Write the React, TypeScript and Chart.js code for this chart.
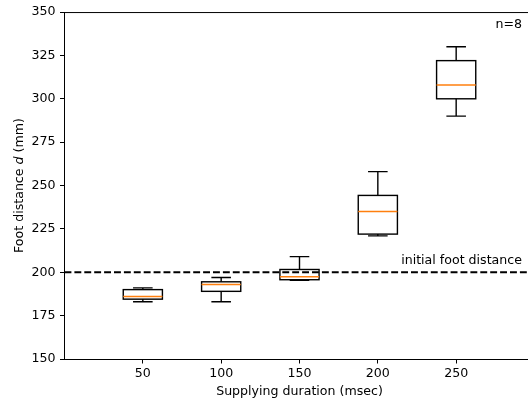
import React, { useEffect, useRef } from "react";
import { Chart, registerables } from "chart.js";

Chart.register(...registerables);

const durations = [50, 100, 150, 200, 250];
const positions = [1, 2, 3, 4, 5];
const whiskerLow = [183, 183, 195.3, 221, 290];
const q1 = [184.5, 189, 195.7, 222, 300];
const median = [186, 193, 197.4, 235, 308];
const q3 = [190, 194.5, 201.6, 244.3, 322];
const whiskerHigh = [191, 197, 209, 258, 330];
const yTicks = [150, 175, 200, 225, 250, 275, 300, 325, 350];
const initialDistance = 200;

const FONT = "DejaVu Sans";
const FS = 12.6;
const CW = 540;
const CH = 404;

const drawPlugin = {
  id: "boxdraw",
  afterDatasetsDraw(chart: any) {
    const { ctx, scales, chartArea } = chart;
    const x = scales.x;
    const y = scales.y;
    ctx.save();
    // top spine
    ctx.strokeStyle = "#000";
    ctx.lineWidth = 1;
    ctx.beginPath();
    ctx.moveTo(chartArea.left, chartArea.top + 0.5);
    ctx.lineTo(chartArea.right, chartArea.top + 0.5);
    ctx.stroke();

    // dashed reference line
    const yr = y.getPixelForValue(initialDistance);
    ctx.setLineDash([6.9, 3]);
    ctx.lineWidth = 1.9;
    ctx.beginPath();
    ctx.moveTo(chartArea.left, yr);
    ctx.lineTo(chartArea.right, yr);
    ctx.stroke();
    ctx.setLineDash([]);

    // boxes
    for (let i = 0; i < positions.length; i++) {
      const cx = x.getPixelForValue(positions[i]);
      const hw = x.getPixelForValue(positions[i] + 0.25) - cx;
      const cw = hw / 2;
      const yl = y.getPixelForValue(whiskerLow[i]);
      const y1 = y.getPixelForValue(q1[i]);
      const ym = y.getPixelForValue(median[i]);
      const y3 = y.getPixelForValue(q3[i]);
      const yh = y.getPixelForValue(whiskerHigh[i]);
      ctx.strokeStyle = "#000";
      ctx.lineWidth = 1.4;
      ctx.beginPath();
      ctx.moveTo(cx, y1);
      ctx.lineTo(cx, yl);
      ctx.moveTo(cx - cw, yl);
      ctx.lineTo(cx + cw, yl);
      ctx.moveTo(cx, y3);
      ctx.lineTo(cx, yh);
      ctx.moveTo(cx - cw, yh);
      ctx.lineTo(cx + cw, yh);
      ctx.stroke();
      ctx.strokeRect(cx - hw, y3, 2 * hw, y1 - y3);
      ctx.strokeStyle = "#ff7f0e";
      ctx.lineWidth = 1.5;
      ctx.beginPath();
      ctx.moveTo(cx - hw, ym);
      ctx.lineTo(cx + hw, ym);
      ctx.stroke();
    }

    // texts
    ctx.fillStyle = "#000";
    ctx.font = `${FS}px "${FONT}"`;
    ctx.textAlign = "right";
    ctx.textBaseline = "alphabetic";
    const tx = x.getPixelForValue(5.84);
    ctx.fillText("initial foot distance", tx, yr - 8.5);
    ctx.fillText("n=8", tx, chartArea.top + 16);

    // x title
    ctx.textAlign = "center";
    ctx.fillText("Supplying duration (msec)", x.getPixelForValue(3), 395);

    // y title with italic d
    const p1 = "Foot distance ";
    const p2 = "d";
    const p3 = " (mm)";
    const nf = `${FS}px "${FONT}"`;
    const itf = `italic ${FS}px "${FONT}"`;
    ctx.font = nf;
    const w1 = ctx.measureText(p1).width;
    const w3 = ctx.measureText(p3).width;
    ctx.font = itf;
    const w2 = ctx.measureText(p2).width;
    const total = w1 + w2 + w3;
    const cy = (chartArea.top + chartArea.bottom) / 2;
    ctx.translate(22.5, cy);
    ctx.rotate(-Math.PI / 2);
    ctx.textAlign = "left";
    let sx = -total / 2;
    ctx.font = nf;
    ctx.fillText(p1, sx, 0);
    sx += w1;
    ctx.font = itf;
    ctx.fillText(p2, sx, 0);
    sx += w2;
    ctx.font = nf;
    ctx.fillText(p3, sx, 0);
    ctx.restore();
  },
};

export default function App() {
  const ref = useRef<HTMLCanvasElement | null>(null);
  useEffect(() => {
    if (!ref.current) return;
    const chart = new Chart(ref.current, {
      type: "scatter",
      data: {
        datasets: [
          {
            data: positions.map((p, i) => ({ x: p, y: median[i] })),
            pointRadius: 0,
            showLine: false,
          },
        ],
      },
      options: {
        animation: false,
        responsive: false,
        devicePixelRatio: 1,
        layout: { padding: { left: 0, right: 5.5, top: 10, bottom: 0 } },
        plugins: { legend: { display: false }, tooltip: { enabled: false } },
        scales: {
          x: {
            type: "linear",
            min: 0,
            max: 6,
            afterBuildTicks: (s: any) => {
              s.ticks = positions.map((v) => ({ value: v }));
            },
            afterFit: (s: any) => {
              s.height = 45;
            },
            ticks: {
              callback: (v: any) => String(durations[positions.indexOf(Number(v))] ?? ""),
              font: { family: FONT, size: FS },
              color: "#000",
              padding: 3,
              maxRotation: 0,
              autoSkip: false,
            },
            grid: {
              drawOnChartArea: false,
              drawTicks: true,
              tickLength: 4.5,
              color: "#000",
            },
            border: { color: "#000", width: 1 },
          },
          y: {
            type: "linear",
            min: 150,
            max: 350,
            afterBuildTicks: (s: any) => {
              s.ticks = yTicks.map((v) => ({ value: v }));
            },
            afterFit: (s: any) => {
              s.width = 64.5;
            },
            ticks: {
              font: { family: FONT, size: FS },
              color: "#000",
              padding: 4.5,
            },
            grid: {
              drawOnChartArea: false,
              drawTicks: true,
              tickLength: 4.5,
              color: "#000",
            },
            border: { color: "#000", width: 1 },
          },
        },
      },
      plugins: [drawPlugin],
    });
    return () => chart.destroy();
  }, []);
  return (
    <div
      style={{
        position: "fixed",
        left: 0,
        top: 0,
        width: 528,
        height: 404,
        overflow: "hidden",
        background: "#fff",
      }}
    >
      <canvas ref={ref} width={CW} height={CH} style={{ width: CW, height: CH, display: "block" }} />
    </div>
  );
}
